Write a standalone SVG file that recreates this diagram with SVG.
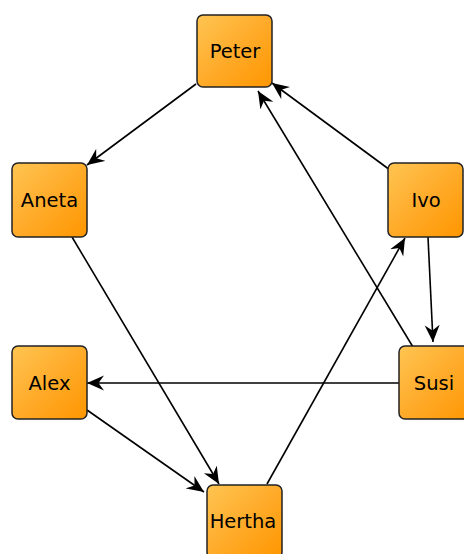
<svg xmlns="http://www.w3.org/2000/svg" width="464" height="554" viewBox="0 0 464 554">
<defs>
<linearGradient id="fill" x1="0" y1="0" x2="1" y2="1">
<stop offset="0" stop-color="#ffc552"/>
<stop offset="0.5" stop-color="#ffab2a"/>
<stop offset="1" stop-color="#ff9600"/>
</linearGradient>
<marker id="arr" viewBox="0 0 17 16" refX="17" refY="8" markerWidth="17" markerHeight="16" markerUnits="userSpaceOnUse" orient="auto">
<path d="M17,8 L0,0.5 L5.5,8 L0,15.5 Z" fill="#000"/>
</marker>
</defs>
<style>
.node rect{fill:url(#fill);stroke:#222;stroke-width:1.5}
.node text{font-family:"DejaVu Sans",sans-serif;font-size:19.5px;fill:#000;text-anchor:middle}
.edge{stroke:#000;stroke-width:1.6;fill:none;marker-end:url(#arr)}
</style>
<rect width="464" height="554" fill="#fff"/>
<g id="connectors">
<line class="edge" x1="196" y1="84" x2="87" y2="165"/>
<line class="edge" x1="390" y1="170" x2="272" y2="83"/>
<line class="edge" x1="413" y1="347" x2="258" y2="91"/>
<line class="edge" x1="428" y1="237" x2="433" y2="342"/>
<line class="edge" x1="399" y1="383" x2="87" y2="383"/>
<line class="edge" x1="87" y1="410" x2="204" y2="492"/>
<line class="edge" x1="72" y1="237" x2="219" y2="484"/>
<line class="edge" x1="267" y1="484" x2="405" y2="238"/>
</g>
<g id="peter" class="node"><rect x="197" y="15" width="75" height="72" rx="6"/><text x="235" y="58">Peter</text></g>
<g id="aneta" class="node"><rect x="12" y="163" width="75" height="74" rx="6"/><text x="49.5" y="207">Aneta</text></g>
<g id="ivo" class="node"><rect x="388" y="163" width="75" height="74" rx="6"/><text x="426" y="207">Ivo</text></g>
<g id="alex" class="node"><rect x="12" y="346" width="75" height="73" rx="6"/><text x="49.5" y="390">Alex</text></g>
<g id="susi" class="node"><rect x="399" y="346" width="75" height="73" rx="6"/><text x="434" y="390">Susi</text></g>
<g id="hertha" class="node"><rect x="207" y="485" width="75" height="73" rx="6"/><text x="243" y="528">Hertha</text></g>
</svg>
